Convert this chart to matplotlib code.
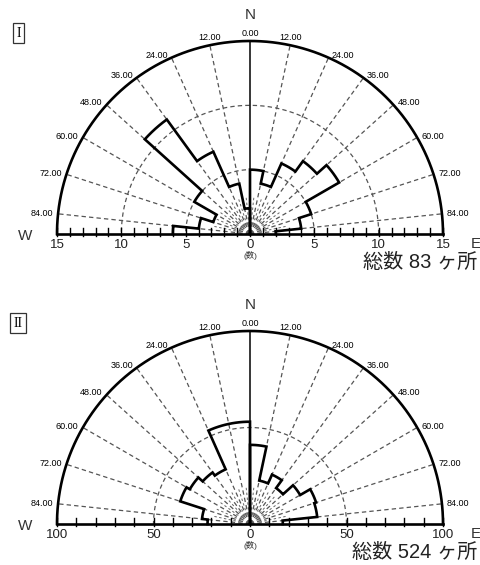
import numpy as np
import matplotlib
matplotlib.use("Agg")
import matplotlib.pyplot as plt

plt.rcParams['font.family'] = ['Liberation Sans', 'Noto Sans CJK JP', 'DejaVu Sans']

# bins of 12 degrees measured from N toward W (left) and E (right)
bin_edges = [0, 12, 24, 36, 48, 60, 72, 84]
angle_labels = ["0.00", "12.00", "24.00", "36.00", "48.00", "60.00", "72.00", "84.00"]

top_west = [2, 4, 7, 11, 5, 3, 4, 6]
top_east = [5, 4, 6, 7, 8, 5, 4, 2]
top_max = 15
top_ticks = [15, 10, 5, 0, 5, 10, 15]
top_rings = [5, 10]
top_total = "総数 83 ヶ所"

bot_west = [53, 53, 31, 33, 36, 38, 25, 22]
bot_east = [41, 23, 28, 23, 30, 36, 35, 17]
bot_max = 100
bot_ticks = [100, 50, 0, 50, 100]
bot_rings = [50]
bot_total = "総数 524 ヶ所"

W_PX, H_PX = 480, 565
fig = plt.figure(figsize=(4.8, 5.65), dpi=100)


def make_axes(box, center, scale):
    l, t, w, h = box
    ax = fig.add_axes([l / W_PX, 1 - (t + h) / H_PX, w / W_PX, h / H_PX])
    cx, cy = center
    ax.set_xlim((l - cx) / scale, (l + w - cx) / scale)
    ax.set_ylim((cy - (t + h)) / scale, (cy - t) / scale)
    ax.axis('off')
    return ax


def pol(a, r, side):
    a = np.radians(a)
    return side * r * np.sin(a), r * np.cos(a)


def draw_rose(ax, west, east, R, ticks, tick_step, rings, total, numeral):
    dash = dict(color='#555555', lw=0.9, ls=(0, (3.5, 2.5)))
    # dashed spokes
    for a in range(12, 90, 12):
        for s in (-1, 1):
            x, y = pol(a, R, s)
            ax.plot([0, x], [0, y], **dash)
    for a in range(6, 90, 12):
        for s in (-1, 1):
            x0, y0 = pol(a, R * 0.05, s)
            x1, y1 = pol(a, R * 0.2, s)
            ax.plot([x0, x1], [y0, y1], color='#666666', lw=0.7, ls=(0, (2.5, 2.5)))
    # dashed rings
    th = np.linspace(0, np.pi, 200)
    for r in rings:
        ax.plot(r * np.cos(th), r * np.sin(th), **dash)
    rs = R * 0.05
    ax.plot(rs * np.cos(th), rs * np.sin(th), color='#777777', lw=0.6, ls=(0, (1.5, 1.5)))
    # outer arc, baseline, north line
    ax.plot(R * np.cos(th), R * np.sin(th), color='black', lw=1.9)
    ax.plot([-R, R], [0, 0], color='black', lw=1.9)
    ax.plot([0, 0], [0, R], color='black', lw=1.1)
    # ticks on baseline
    for v in np.arange(-R, R + tick_step / 2, tick_step):
        ax.plot([v, v], [-R * 0.008, R * 0.03], color='black', lw=1.0)
    n = len(ticks)
    for i, t in enumerate(ticks):
        xv = -R + i * (2 * R) / (n - 1)
        ax.text(xv, -R * 0.055, str(t), ha='center', va='center', fontsize=9.5, color='#222222')
    # histogram outline
    for vals, s in ((west, -1), (east, 1)):
        xs, ys = [0.0], [0.0]
        for a0, v in zip(bin_edges, vals):
            a1 = min(a0 + 12, 90)
            for a in np.linspace(a0, a1, 7):
                x, y = pol(a, v, s)
                xs.append(x)
                ys.append(y)
        ax.plot(xs, ys, color='black', lw=1.9, solid_joinstyle='miter')
    # angle labels
    for a, lab in zip(bin_edges, angle_labels):
        sides = (1,) if a == 0 else (-1, 1)
        for s in sides:
            x, y = pol(a, R * 1.015, s)
            if a <= 12:
                ax.text(x, y, lab, ha='center', va='bottom', fontsize=6.5)
            else:
                ax.text(x + s * R * 0.01, y, lab, ha='right' if s < 0 else 'left',
                        va='center', fontsize=6.5)
    ax.text(0, R * 1.135, "N", ha='center', va='center', fontsize=11, color='#333333')
    ax.text(-R * 1.165, -R * 0.01, "W", ha='center', va='center', fontsize=11, color='#333333')
    ax.text(R * 1.17, -R * 0.05, "E", ha='center', va='center', fontsize=11, color='#333333')
    ax.text(0, -R * 0.112, "(数)", ha='center', va='center', fontsize=6, color='#333333')
    ax.text(R * 1.18, -R * 0.148, total, ha='right', va='center', fontsize=14.5, color='#222222')
    ax.text(-R * 1.2, R * 1.04, numeral, ha='center', va='center', fontsize=10,
            family=['Liberation Serif', 'DejaVu Serif'],
            bbox=dict(boxstyle='square,pad=0.25', fc='white', ec='#333333', lw=0.9))


ax1 = make_axes((0, 0, 480, 285), (250, 234), 193 / top_max)
draw_rose(ax1, top_west, top_east, top_max, top_ticks, 1, top_rings, top_total, "I")

ax2 = make_axes((0, 285, 480, 280), (250, 524), 193 / bot_max)
draw_rose(ax2, bot_west, bot_east, bot_max, bot_ticks, 10, bot_rings, bot_total, "II")

fig.savefig("out.png", dpi=100)
